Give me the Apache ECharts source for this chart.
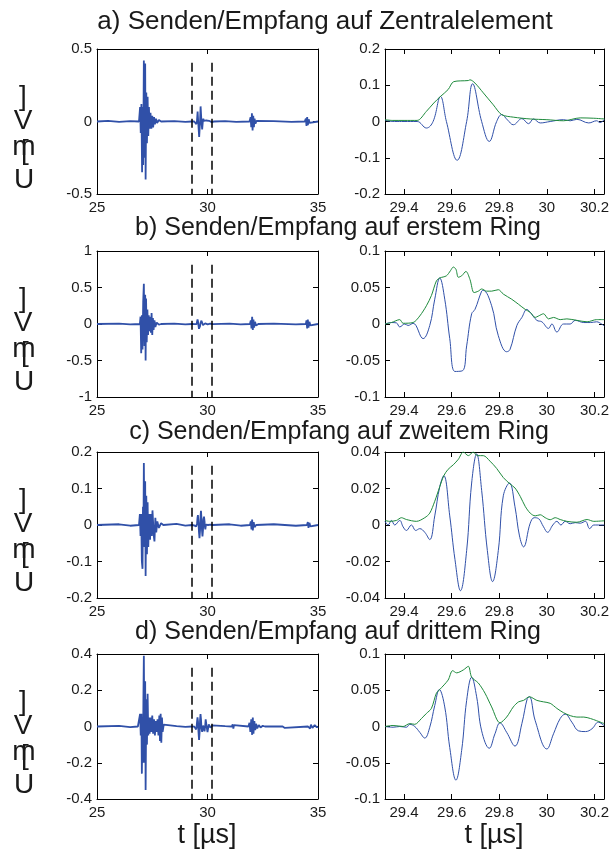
<!DOCTYPE html>
<html>
<head>
<meta charset="UTF-8">
<title>Senden/Empfang</title>
<script src="https://cdn.jsdelivr.net/npm/echarts@6/dist/echarts.min.js"></script>
<style>
    html, body { margin: 0; padding: 0; background: #fff; }
    #main { width: 616px; height: 853px; }
</style>
</head>
<body>
<div id="main"></div>
<script>
// ---- titles / axis settings ----
var titles = [
    'a) Senden/Empfang auf Zentralelement',
    'b) Senden/Empfang auf erstem Ring',
    'c) Senden/Empfang auf zweitem Ring',
    'd) Senden/Empfang auf drittem Ring'
];
var leftY = [[-0.5, 0.5, 0.5], [-1, 1, 0.5], [-0.2, 0.2, 0.1], [-0.4, 0.4, 0.2]];
var rightY = [[-0.2, 0.2, 0.1], [-0.1, 0.1, 0.05], [-0.04, 0.04, 0.02], [-0.1, 0.1, 0.05]];
var leftX = [25, 35, 5];
var rightX = [29.32, 30.24];
var rightTicks = [29.4, 29.6, 29.8, 30, 30.2];
var windowLines = [29.28, 30.2];

// ---- zoomed window (right column): signal + envelope ----
var blueA = [[29.32,0.004],[29.33,0.002],[29.36,0],[29.40,0],[29.455,0],[29.494,-0.018],[29.522,0],[29.553,0.069],[29.578,0],[29.623,-0.107],[29.663,0],[29.688,0.104],[29.726,0],[29.758,-0.055],[29.789,0],[29.81,0.019],[29.835,0.004],[29.859,-0.009],[29.895,0.008],[29.923,-0.006],[29.944,0.007],[29.972,-0.004],[30.014,0],[30.07,0.005],[30.098,0.002],[30.126,0.006],[30.176,-0.004],[30.209,0.002],[30.223,-0.003],[30.241,0.005]];
var greenA = [[29.32,0.005],[29.35,0.003],[29.40,0.003],[29.455,0.003],[29.494,0.028],[29.525,0.051],[29.553,0.069],[29.585,0.088],[29.609,0.11],[29.67,0.113],[29.677,0.115],[29.698,0.106],[29.733,0.079],[29.775,0.046],[29.81,0.019],[29.859,0.012],[29.93,0.007],[30.0,0.005],[30.07,0.002],[30.14,0.01],[30.197,0.009],[30.241,0.007]];

var blueB = [[29.32,0],[29.347,0.002],[29.368,0.0015],[29.382,-0.004],[29.403,0],[29.417,-0.002],[29.438,0.001],[29.48,-0.02],[29.508,-0.002],[29.529,0.034],[29.55,0.063],[29.571,0.034],[29.592,-0.02],[29.614,-0.065],[29.646,-0.064],[29.663,-0.03],[29.684,0.014],[29.698,0.02],[29.726,0.045],[29.733,0.046],[29.768,0.025],[29.796,-0.016],[29.831,-0.038],[29.845,-0.035],[29.874,-0.002],[29.895,0.009],[29.916,0.02],[29.93,0.016],[29.958,0.005],[29.979,0.003],[30.007,-0.006],[30.021,0],[30.042,-0.011],[30.07,0],[30.098,0],[30.119,0.005],[30.155,0.002],[30.183,0.002],[30.209,0.003],[30.23,0],[30.241,-0.003]];
var greenB = [[29.32,0],[29.347,0.002],[29.382,0.006],[29.396,0.001],[29.438,0.002],[29.466,0.011],[29.494,0.025],[29.515,0.039],[29.536,0.059],[29.55,0.063],[29.578,0.066],[29.595,0.073],[29.607,0.078],[29.618,0.075],[29.628,0.064],[29.642,0.066],[29.66,0.072],[29.677,0.061],[29.694,0.043],[29.712,0.045],[29.726,0.048],[29.747,0.045],[29.768,0.045],[29.796,0.047],[29.817,0.041],[29.852,0.034],[29.881,0.027],[29.909,0.02],[29.93,0.016],[29.951,0.009],[29.965,0.011],[29.986,0.014],[30.007,0.007],[30.028,0.009],[30.056,0.006],[30.084,0.007],[30.126,0.005],[30.169,0.003],[30.209,0.006],[30.241,0.006]];

var blueC = [[29.32,0.002],[29.333,0],[29.347,0.0025],[29.361,0],[29.382,0.0025],[29.396,-0.001],[29.41,-0.003],[29.431,0],[29.449,-0.003],[29.466,-0.002],[29.487,-0.004],[29.508,-0.008],[29.529,0.005],[29.55,0.021],[29.567,0.027],[29.592,0.005],[29.614,-0.019],[29.637,-0.036],[29.663,-0.014],[29.684,0.023],[29.705,0.039],[29.726,0.019],[29.75,-0.014],[29.772,-0.031],[29.796,-0.014],[29.817,0.016],[29.843,0.023],[29.866,0.01],[29.885,-0.006],[29.902,-0.012],[29.93,0.001],[29.947,0.004],[29.965,0.0035],[29.986,-0.001],[30.003,-0.004],[30.025,0],[30.042,0.002],[30.059,0],[30.077,0.002],[30.098,0.0007],[30.119,0.0013],[30.14,0.001],[30.162,0.002],[30.18,-0.002],[30.197,0],[30.241,0]];
var greenC = [[29.32,0.0025],[29.34,0.002],[29.368,0.0025],[29.389,0.004],[29.41,0.003],[29.452,0.002],[29.487,0.004],[29.508,0.0065],[29.529,0.013],[29.55,0.021],[29.567,0.027],[29.585,0.0305],[29.607,0.033],[29.628,0.036],[29.649,0.04],[29.67,0.038],[29.691,0.04],[29.708,0.038],[29.733,0.038],[29.761,0.035],[29.789,0.031],[29.817,0.026],[29.845,0.0225],[29.866,0.0203],[29.888,0.0157],[29.909,0.0102],[29.93,0.0065],[29.951,0.005],[29.972,0.0056],[29.993,0.004],[30.014,0.0029],[30.035,0.004],[30.056,0.003],[30.084,0.002],[30.126,0.0015],[30.169,0.003],[30.197,0.002],[30.241,0.0023]];

var blueD = [[29.32,0],[29.354,-0.001],[29.382,0],[29.41,-0.001],[29.424,0.003],[29.445,0],[29.466,-0.008],[29.487,-0.016],[29.508,-0.001],[29.529,0.029],[29.548,0.051],[29.571,0.027],[29.592,-0.029],[29.618,-0.074],[29.642,-0.033],[29.663,0.036],[29.684,0.068],[29.705,0.041],[29.726,-0.006],[29.758,-0.03],[29.782,-0.01],[29.803,0.005],[29.831,-0.008],[29.866,-0.027],[29.895,0.004],[29.918,0.039],[29.927,0.041],[29.951,0.008],[30.0,-0.031],[30.028,-0.01],[30.056,0.011],[30.077,0.017],[30.105,0.006],[30.133,-0.006],[30.162,-0.007],[30.19,-0.003],[30.216,0.006],[30.241,0.001]];
var greenD = [[29.32,0],[29.354,0.0014],[29.396,0],[29.424,0.004],[29.445,0.003],[29.473,0.011],[29.494,0.018],[29.515,0.025],[29.536,0.046],[29.55,0.051],[29.585,0.064],[29.604,0.077],[29.621,0.074],[29.649,0.078],[29.67,0.083],[29.684,0.068],[29.712,0.06],[29.74,0.046],[29.768,0.027],[29.803,0.005],[29.831,0.013],[29.859,0.027],[29.881,0.034],[29.902,0.036],[29.927,0.041],[29.958,0.036],[29.986,0.034],[30.014,0.032],[30.042,0.025],[30.07,0.019],[30.098,0.015],[30.126,0.013],[30.155,0.013],[30.183,0.011],[30.209,0.008],[30.241,0.004]];

// ---- full record (left column): before and after the window ----
var preA = [[25,0],[25.5,0.004],[26,-0.003],[26.5,0.003],[26.9,0],[26.95,0.1],[26.98,-0.08],[27.01,0.12],[27.04,-0.35],[27.07,0.1],[27.09,-0.3],[27.12,0.42],[27.15,-0.25],[27.18,0.4],[27.2,-0.4],[27.23,0.2],[27.26,-0.15],[27.29,0.17],[27.32,-0.1],[27.35,0.1],[27.38,-0.05],[27.42,0.06],[27.46,-0.05],[27.5,0.04],[27.54,-0.04],[27.58,0.03],[27.62,-0.02],[27.67,0.02],[27.72,-0.01],[27.8,0.01],[27.9,0],[28.5,0.003],[29.0,-0.003],[29.3,0]];
var postA = [[30.3,0],[30.8,0.003],[31.3,-0.003],[31.9,0],[31.95,0.03],[31.98,-0.04],[32.01,0.057],[32.04,-0.062],[32.07,0.04],[32.1,-0.04],[32.13,0.02],[32.17,-0.015],[32.22,0.005],[32.3,0],[33,0.003],[33.8,-0.003],[34.4,0],[34.45,0.02],[34.48,-0.03],[34.51,0.03],[34.54,-0.025],[34.58,0.015],[34.62,-0.01],[34.7,0],[35,0]];

var preB = [[25,0],[26,0.005],[26.5,-0.005],[26.94,0],[26.97,0.1],[27.0,-0.4],[27.03,0.12],[27.06,-0.35],[27.09,0.3],[27.12,0.55],[27.15,-0.3],[27.18,0.4],[27.2,-0.5],[27.22,0.35],[27.25,-0.25],[27.28,0.2],[27.31,-0.15],[27.34,0.12],[27.37,-0.1],[27.41,0.1],[27.44,-0.12],[27.47,0.15],[27.5,-0.15],[27.53,0.08],[27.56,-0.08],[27.6,0.05],[27.64,-0.04],[27.7,0.02],[27.8,-0.01],[27.9,0],[28.5,0.005],[29,-0.005],[29.3,0]];
var postB = [[30.3,0],[31,0.005],[31.5,-0.005],[31.92,0],[31.96,0.05],[31.99,-0.06],[32.02,0.1],[32.05,-0.08],[32.08,0.06],[32.11,-0.05],[32.15,0.03],[32.2,-0.02],[32.3,0],[33,0.004],[34,-0.004],[34.45,0],[34.48,0.05],[34.51,-0.06],[34.54,0.06],[34.57,-0.05],[34.61,0.03],[34.66,-0.02],[34.72,0],[35,0]];

var preC = [[25,0],[26,0.002],[26.5,-0.002],[26.9,0],[26.94,0.03],[26.97,-0.03],[27.0,0.03],[27.03,-0.1],[27.06,-0.12],[27.08,0.05],[27.1,-0.05],[27.12,0.17],[27.15,-0.06],[27.18,0.12],[27.2,-0.14],[27.23,0.08],[27.26,-0.08],[27.29,0.062],[27.32,-0.06],[27.36,0.03],[27.4,-0.04],[27.44,0.03],[27.48,-0.03],[27.51,0.04],[27.54,0.045],[27.57,-0.03],[27.6,-0.045],[27.64,0.02],[27.68,-0.02],[27.73,0.01],[27.8,-0.008],[27.9,0.005],[28,0],[28.6,0.003],[29,-0.002],[29.3,0]];
var postC = [[30.3,0],[31,0.002],[31.5,-0.002],[31.92,0],[31.96,0.01],[31.99,-0.012],[32.02,0.015],[32.05,-0.015],[32.09,0.008],[32.13,-0.006],[32.2,0],[33,0.002],[34,-0.002],[34.5,0],[34.54,0.008],[34.57,-0.008],[34.61,0.006],[34.66,-0.004],[34.72,0],[35,0]];

var preD = [[25,0],[26,0.003],[26.5,-0.003],[26.85,0],[26.9,0.01],[26.95,0.07],[26.98,-0.05],[27.01,0.07],[27.03,-0.26],[27.06,0.05],[27.08,-0.2],[27.1,0.15],[27.12,0.39],[27.15,-0.2],[27.18,0.25],[27.2,-0.35],[27.23,0.15],[27.26,-0.1],[27.29,0.18],[27.32,-0.05],[27.35,0.05],[27.38,-0.04],[27.42,0.05],[27.46,-0.03],[27.5,0.06],[27.54,-0.04],[27.58,0.04],[27.62,-0.05],[27.66,0.03],[27.7,-0.03],[27.74,0.04],[27.78,-0.05],[27.82,0.06],[27.85,-0.08],[27.88,0.07],[27.91,-0.09],[27.94,0.05],[27.97,-0.03],[28.02,0.01],[28.1,0],[28.6,0.002],[29,-0.002],[29.3,0]];
var postD = [[30.3,0],[30.8,0.002],[31.1,0],[31.14,0.012],[31.17,-0.012],[31.2,0.008],[31.25,0],[31.85,0],[31.9,0.02],[31.94,-0.03],[31.98,0.04],[32.02,-0.046],[32.05,0.05],[32.08,-0.04],[32.12,0.03],[32.16,-0.02],[32.2,0.015],[32.25,-0.01],[32.32,0.008],[32.4,-0.005],[32.5,0.004],[32.6,0],[33.4,0],[33.45,0.008],[33.5,-0.008],[33.55,0],[34.55,0],[34.6,0.01],[34.64,-0.012],[34.68,0.01],[34.75,-0.008],[34.85,0.008],[34.95,-0.005],[35,0]];

var blues = [blueA, blueB, blueC, blueD];
var greens = [greenA, greenB, greenC, greenD];
var pres = [preA, preB, preC, preD];
var posts = [postA, postB, postC, postD];

// ---- layout ----
var FONT = 'Liberation Sans, Arial, Helvetica, sans-serif';
var rowTop = [49, 251, 452, 654];
var rowH = [145, 146, 146, 145];
var titleY = [22, 228, 432, 632];
var titleX = [325, 338, 339, 338];
var titleSize = [26, 25, 25, 25];
var BLUE = '#3050a8';
var GREEN = '#1e8a3c';

var chart = echarts.init(document.getElementById('main'));

var grids = [], xAxes = [], yAxes = [], series = [], graphics = [];

function addAxes(g, xcfg, ycfg) {
    var lineStyle = { color: '#000', width: 1 };
    var tick = { show: true, inside: true, length: 5, lineStyle: lineStyle };
    var lab = { color: '#1a1a1a', fontSize: 15, fontFamily: FONT };
    [['bottom', true], ['top', false]].forEach(function (p) {
        var ax = {
            type: 'value', gridIndex: g, position: p[0],
            min: xcfg.min, max: xcfg.max,
            axisLine: { show: true, onZero: false, lineStyle: lineStyle },
            axisTick: Object.assign({}, tick),
            axisLabel: Object.assign({ show: p[1], margin: 6 }, lab),
            splitLine: { show: false }
        };
        if (xcfg.interval) ax.interval = xcfg.interval;
        if (xcfg.custom) {
            ax.axisTick.customValues = xcfg.custom;
            ax.axisLabel.customValues = xcfg.custom;
        }
        xAxes.push(ax);
    });
    [['left', true], ['right', false]].forEach(function (p) {
        yAxes.push({
            type: 'value', gridIndex: g, position: p[0],
            min: ycfg[0], max: ycfg[1], interval: ycfg[2],
            axisLine: { show: true, onZero: false, lineStyle: lineStyle },
            axisTick: Object.assign({}, tick),
            axisLabel: Object.assign({ show: p[1], margin: 5 }, lab),
            splitLine: { show: false }
        });
    });
}

for (var r = 0; r < 4; r++) {
    // left: full record, right: zoomed window
    var gL = r * 2, gR = r * 2 + 1;
    grids.push({ left: 97, top: rowTop[r], width: 221, height: rowH[r] });
    grids.push({ left: 385, top: rowTop[r], width: 219, height: rowH[r] });
    addAxes(gL, { min: leftX[0], max: leftX[1], interval: leftX[2] }, leftY[r]);
    addAxes(gR, { min: rightX[0], max: rightX[1], custom: rightTicks }, rightY[r]);

    var yMin = leftY[r][0], yMax = leftY[r][1];
    var dashTop = yMin + 0.905 * (yMax - yMin);
    series.push({
        type: 'line', xAxisIndex: gL * 2, yAxisIndex: gL * 2,
        data: pres[r].concat(blues[r], posts[r]),
        showSymbol: false, animation: false,
        lineStyle: { color: BLUE, width: 1.8 },
        markLine: {
            silent: true, symbol: 'none', animation: false,
            label: { show: false },
            lineStyle: { color: '#000', width: 1.5, type: [9, 5] },
            data: windowLines.map(function (x) {
                return [{ coord: [x, dashTop] }, { coord: [x, yMin] }];
            })
        }
    });
    series.push({
        type: 'line', xAxisIndex: gR * 2, yAxisIndex: gR * 2,
        data: blues[r], showSymbol: false, animation: false, smooth: 0.4,
        lineStyle: { color: BLUE, width: 1 }
    });
    series.push({
        type: 'line', xAxisIndex: gR * 2, yAxisIndex: gR * 2,
        data: greens[r], showSymbol: false, animation: false, smooth: 0.3,
        lineStyle: { color: GREEN, width: 1 }
    });

    graphics.push({
        type: 'text', x: titleX[r], y: titleY[r],
        style: { text: titles[r], fontSize: titleSize[r], fontFamily: FONT, fill: '#1a1a1a', align: 'center', verticalAlign: 'middle' }
    });
    // stacked upright glyphs of the y label "U [mV]"
    var T = rowTop[r];
    [[']', 23, 48], ['V', 23, 72], ['m', 24, 98], ['[', 25, 102], ['U', 24, 131]].forEach(function (c) {
        graphics.push({
            type: 'text', x: c[1], y: T + c[2],
            style: { text: c[0], fontSize: 28, fontFamily: FONT, fill: '#1a1a1a', align: 'center', verticalAlign: 'middle' }
        });
    });
}

graphics.push({ type: 'text', x: 207, y: 836, style: { text: 't [\u00b5s]', fontSize: 27, fontFamily: FONT, fill: '#1a1a1a', align: 'center', verticalAlign: 'middle' } });
graphics.push({ type: 'text', x: 494, y: 836, style: { text: 't [\u00b5s]', fontSize: 27, fontFamily: FONT, fill: '#1a1a1a', align: 'center', verticalAlign: 'middle' } });

chart.setOption({
    backgroundColor: '#fff',
    animation: false,
    grid: grids,
    xAxis: xAxes,
    yAxis: yAxes,
    series: series,
    graphic: graphics
});
</script>
</body>
</html>
